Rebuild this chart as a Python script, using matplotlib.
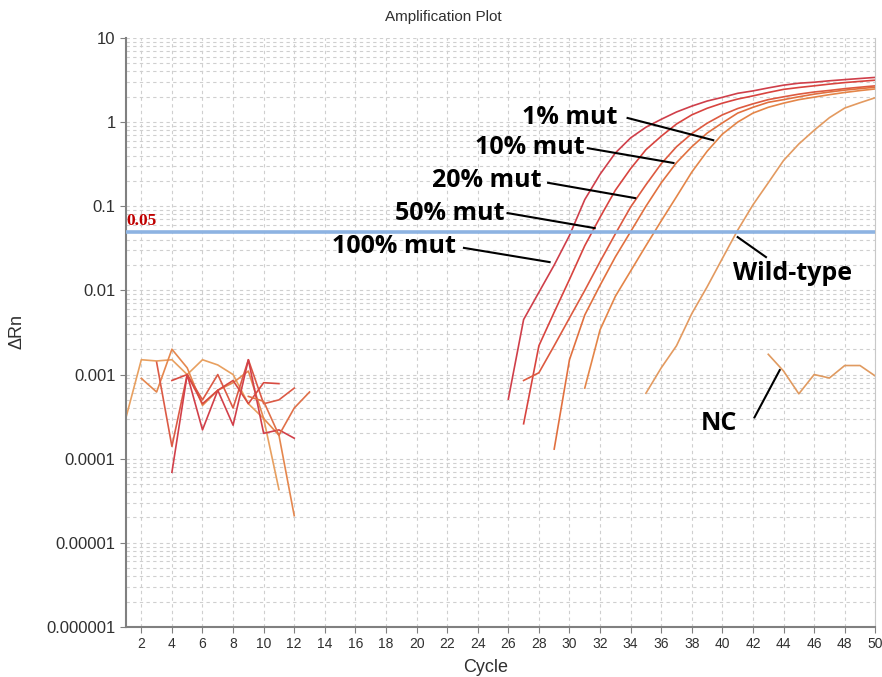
import numpy as np
import matplotlib.pyplot as plt
from matplotlib.ticker import FixedLocator, FixedFormatter, NullFormatter

# amplification curves (cycle, delta Rn)
mut100_cyc = list(range(26, 51))
mut100 = [5.1e-4, 4.5e-3, 9.5e-3, 0.020, 0.045, 0.12, 0.24, 0.43, 0.65, 0.87,
          1.08, 1.32, 1.55, 1.78, 1.97, 2.2, 2.35, 2.55, 2.75, 2.9,
          2.98, 3.1, 3.2, 3.3, 3.4]
mut50_cyc = list(range(27, 51))
mut50 = [2.6e-4, 2.2e-3, 5.5e-3, 0.0135, 0.034, 0.074, 0.155, 0.28, 0.47, 0.68,
         0.95, 1.22, 1.46, 1.68, 1.88, 2.05, 2.25, 2.45, 2.58, 2.7,
         2.83, 2.95, 3.05, 3.15]
mut20_cyc = list(range(27, 51))
mut20 = [8.5e-4, 1.05e-3, 2.2e-3, 4.7e-3, 0.010, 0.022, 0.047, 0.098, 0.18, 0.32,
         0.51, 0.73, 0.97, 1.22, 1.45, 1.65, 1.85, 2.0, 2.15, 2.28,
         2.38, 2.5, 2.6, 2.7]
mut10_cyc = list(range(29, 51))
mut10 = [1.3e-4, 1.5e-3, 5.1e-3, 0.0115, 0.025, 0.05, 0.10, 0.19, 0.33, 0.51,
         0.74, 0.98, 1.28, 1.5, 1.72, 1.85, 2.0, 2.15, 2.28, 2.4,
         2.5, 2.6]
mut1_cyc = list(range(31, 51))
mut1 = [6.9e-4, 3.4e-3, 8.5e-3, 0.017, 0.034, 0.067, 0.13, 0.255, 0.45, 0.72,
        1.0, 1.28, 1.5, 1.68, 1.85, 1.98, 2.12, 2.25, 2.37, 2.48]
wt_cyc = list(range(35, 51))
wt = [6.0e-4, 1.2e-3, 2.2e-3, 5.3e-3, 0.011, 0.024, 0.052, 0.104, 0.19, 0.35,
      0.55, 0.8, 1.13, 1.47, 1.7, 1.95]
nc_cyc = list(range(43, 51))
nc = [1.74e-3, 1.1e-3, 5.9e-4, 1.0e-3, 9.1e-4, 1.28e-3, 1.28e-3, 9.6e-4]

# background noise before amplification
noise = [
    (list(range(1, 12)), [3.1e-4, 1.5e-3, 1.45e-3, 1.5e-3, 1.0e-3, 1.5e-3, 1.3e-3, 1.0e-3, 4.5e-4, 3.0e-4, 4.3e-5], '#e8a060'),
    (list(range(2, 13)), [9.0e-4, 6.2e-4, 2.0e-3, 1.2e-3, 4.3e-4, 6.5e-4, 8.0e-4, 1.1e-3, 3.0e-4, 1.9e-4, 2.1e-5], '#e5874e'),
    (list(range(3, 13)), [1.4e-3, 1.4e-4, 1.0e-3, 5.0e-4, 1.0e-3, 4.0e-4, 1.5e-3, 4.5e-4, 5.0e-4, 6.9e-4], '#dc5a45'),
    (list(range(4, 13)), [6.9e-5, 1.0e-3, 2.2e-4, 6.5e-4, 2.5e-4, 1.5e-3, 2.0e-4, 2.2e-4, 1.75e-4], '#d2404a'),
    (list(range(4, 12)), [8.5e-4, 1.0e-3, 4.5e-4, 6.5e-4, 8.5e-4, 4.5e-4, 8.0e-4, 7.8e-4], '#d84a40'),
    (list(range(9, 14)), [5.5e-4, 4.8e-4, 1.9e-4, 4.0e-4, 6.2e-4], '#e07048'),
]

threshold = 0.05
ytick_vals = [1e-6, 1e-5, 1e-4, 1e-3, 1e-2, 1e-1, 1, 10]
ytick_labels = ['0.000001', '0.00001', '0.0001', '0.001', '0.01', '0.1', '1', '10']
xtick_vals = list(range(2, 51, 2))

# curve labels: text, text anchor (right edge), leader line start, leader line end
mut_labels = ['1% mut', '10% mut', '20% mut', '50% mut', '100% mut']
mut_label_xy = [(33.15, 1.15), (31.0, 0.506), (28.2, 0.20), (25.75, 0.083), (22.6, 0.033)]
mut_line_from = [(33.8, 1.12), (31.2, 0.49), (28.6, 0.19), (25.95, 0.083), (23.1, 0.032)]
mut_line_to = [(39.4, 0.61), (36.8, 0.327), (34.3, 0.125), (31.65, 0.055), (28.7, 0.0217)]

fig = plt.figure(figsize=(8.82, 6.77), dpi=100)
ax = fig.add_axes([0.1429, 0.0739, 0.8495, 0.87])

for cyc, vals, col in noise:
    ax.plot(cyc, vals, color=col, lw=1.2)

curves = [
    (mut100_cyc, mut100, '#cf3f4a'),
    (mut50_cyc, mut50, '#d8443f'),
    (mut20_cyc, mut20, '#dd5a40'),
    (mut10_cyc, mut10, '#e1703f'),
    (mut1_cyc, mut1, '#e48548'),
    (wt_cyc, wt, '#e39a60'),
    (nc_cyc, nc, '#e09a60'),
]
for cyc, vals, col in curves:
    ax.plot(cyc, vals, color=col, lw=1.2)

ax.axhline(threshold, color='#8db3e2', lw=2.6, zorder=3)
ax.text(1.05, threshold * 1.08, '0.05', color='#c00000', fontsize=12.5,
        family='Liberation Serif', fontweight='bold', va='bottom', ha='left')

ax.set_yscale('log')
ax.set_ylim(1e-6, 10)
ax.set_xlim(1, 50)
ax.yaxis.set_major_locator(FixedLocator(ytick_vals))
ax.yaxis.set_major_formatter(FixedFormatter(ytick_labels))
ax.yaxis.set_minor_formatter(NullFormatter())
ax.xaxis.set_major_locator(FixedLocator(xtick_vals))

ax.grid(True, which='both', color='#cfcfcf', ls=(0, (3, 3)), lw=0.8)
ax.set_axisbelow(True)
ax.tick_params(axis='y', which='minor', length=0)
ax.tick_params(axis='both', which='major', length=4, color='#808080', labelcolor='#303030')
ax.tick_params(axis='y', labelsize=12)
ax.tick_params(axis='x', labelsize=10)
for lab in ax.get_xticklabels() + ax.get_yticklabels():
    lab.set_family('Liberation Sans')

ax.spines['top'].set_visible(False)
ax.spines['right'].set_color('#c8c8c8')
ax.spines['left'].set_color('#808080')
ax.spines['bottom'].set_color('#808080')
ax.spines['left'].set_linewidth(1.5)
ax.spines['bottom'].set_linewidth(1.5)

fig.text(0.503, 0.975, 'Amplification Plot', ha='center', va='center',
         fontsize=11, family='Liberation Sans', color='#303030')
ax.set_xlabel('Cycle', fontsize=13, family='Liberation Sans', color='#303030')
ax.xaxis.set_label_coords(0.48, -0.055)
fig.text(0.019, 0.511, '\u0394Rn', rotation=90, ha='center', va='center',
         fontsize=13, family='Liberation Sans', color='#303030')

for text, txy, p0, p1 in zip(mut_labels, mut_label_xy, mut_line_from, mut_line_to):
    ax.text(txy[0], txy[1], text, fontsize=18, fontweight='bold', family='Open Sans',
            ha='right', va='center')
    ax.plot([p0[0], p1[0]], [p0[1], p1[1]], color='black', lw=1.5)

ax.text(44.6, 0.016, 'Wild-type', fontsize=18, fontweight='bold', family='Open Sans',
        ha='center', va='center')
ax.plot([42.85, 41.0], [0.0249, 0.043], color='black', lw=1.5)
ax.text(39.8, 2.64e-4, 'NC', fontsize=18, fontweight='bold', family='Open Sans',
        ha='center', va='center')
ax.plot([42.1, 43.75], [3.1e-4, 1.13e-3], color='black', lw=1.5)

fig.savefig('out.png', dpi=100)
